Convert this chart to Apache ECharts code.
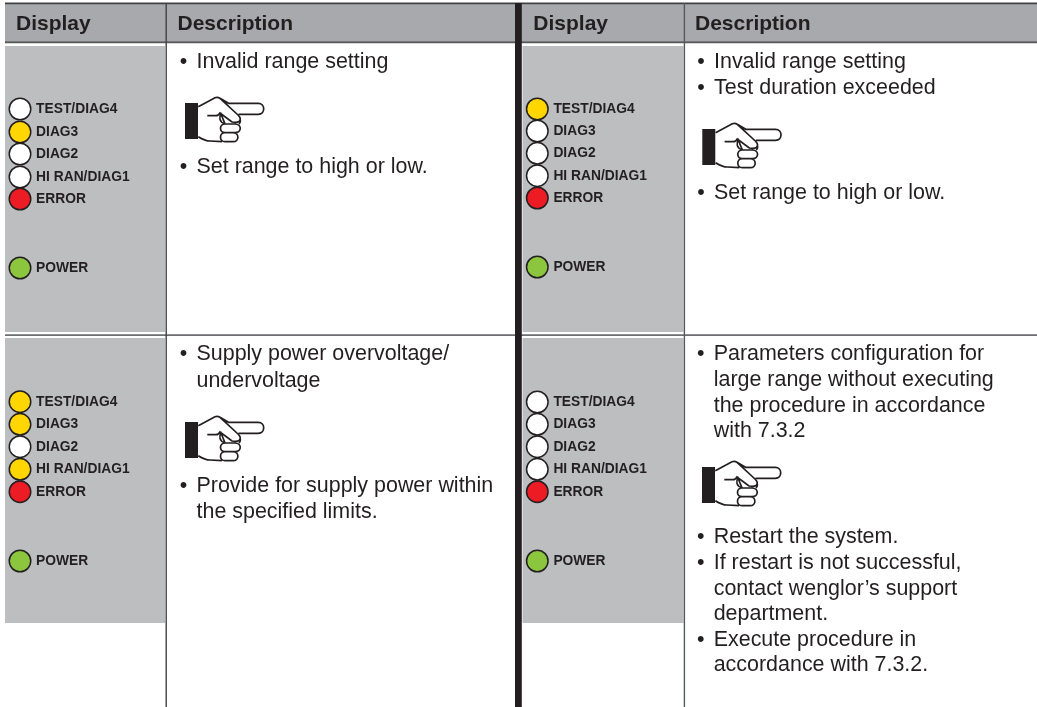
<!DOCTYPE html>
<html><head><meta charset="utf-8">
<style>html,body{margin:0;padding:0;background:#fff}#c{width:1037px;height:707px}</style>
<script src="https://cdn.jsdelivr.net/npm/echarts@6/dist/echarts.min.js"></script>
</head><body><div id="c"></div>
<script>
const headers = ['Display', 'Description'];
const ledNames = ['TEST/DIAG4', 'DIAG3', 'DIAG2', 'HI RAN/DIAG1', 'ERROR', 'POWER'];
const states1 = ['off', 'yellow', 'off', 'off', 'red', 'green'];
const states2 = ['yellow', 'off', 'off', 'off', 'red', 'green'];
const states3 = ['yellow', 'yellow', 'off', 'yellow', 'red', 'green'];
const states4 = ['off', 'off', 'off', 'off', 'red', 'green'];
const text1 = [['Invalid range setting', 1], ['Set range to high or low.', 1]];
const text2 = [['Invalid range setting', 1], ['Test duration exceeded', 1], ['Set range to high or low.', 1]];
const text3 = [['Supply power overvoltage/', 1], ['undervoltage', 0], ['Provide for supply power within', 1], ['the specified limits.', 0]];
const text4 = [['Parameters configuration for', 1], ['large range without executing', 0], ['the procedure in accordance', 0], ['with 7.3.2', 0],
  ['Restart the system.', 1], ['If restart is not successful,', 1], ['contact wenglor’s support', 0], ['department.', 0], ['Execute procedure in', 1], ['accordance with 7.3.2.', 0]];

const cellLayouts = [
  {led: 20, ledY: [109, 132, 154, 177, 199, 268], textX: 196.5, textY: [61.7, 167], hand: [185, 97], states: states1, text: text1},
  {led: 537.3, ledY: [109, 131, 153.3, 175.7, 198, 267], textX: 714, textY: [62, 87.7, 192.7], hand: [702.3, 123], states: states2, text: text2},
  {led: 20, ledY: [401.7, 424.3, 446.7, 469.3, 491.7, 561], textX: 196.5, textY: [354.4, 380.7, 486, 512], hand: [185, 416], states: states3, text: text3},
  {led: 537.3, ledY: [402, 424.3, 446.7, 469.3, 491.7, 561], textX: 713.7, textY: [354.5, 380.5, 406, 431, 536.7, 563, 589, 613.7, 639.7, 665.2], hand: [702, 461], states: states4, text: text4}
];
const ledColors = {off: '#ffffff', yellow: '#ffd600', red: '#ed1c24', green: '#8cc63f'};
const INK = '#231f20';
const rects = [
  [5, 4, 1032, 37.5, '#a7a9ac'],
  [5, 46, 160, 286, '#bcbec0'], [522.5, 46, 161, 286, '#bcbec0'],
  [5, 338, 160, 285, '#bcbec0'], [522.5, 338, 161, 285, '#bcbec0'],
  [5, 2.5, 1032, 1.8, '#414042'], [5, 41.3, 1032, 2, '#58595b'],
  [5, 334.3, 1032, 1.8, '#6d6e71'],
  [165.5, 3, 1.4, 704, '#414042'], [683.7, 3, 1.4, 704, '#58595b'],
  [515, 3, 6.8, 704, INK]
];
const handPath = 'M0 -1L0 -1M81 46L81 46'
  + 'M13.3 9.7L30 0.8Q32.5 -0.3 35 1.3L43.5 6.3L73.3 6.3C80.5 6.3 80.5 17.3 73.3 17.3L53.5 17.3'
  + 'M35 1.3L53 18Q57 22 54 24.5Q52 26 47 25L35 16Q33.5 18.7 31 18.7L22.3 18.7'
  + 'M36 17C34 20 34 25 40 27L50 27C57 27 57 35.7 50 35.7L40 35.7C34 35.7 34 27 40 27Z'
  + 'M40 35.7L48 35.7C54.5 35.7 54.5 44.7 48 44.7L40 44.7C34 44.7 34 35.7 40 35.7Z'
  + 'M55 22Q56 25 54 27'
  + 'M13.3 39.7Q20 44 25 44L37 44.7';

const ledData = [];
const textData = [];
const bulletData = [];
cellLayouts.forEach(c => {
  c.states.forEach((s, i) => ledData.push({name: ledNames[i], value: [c.led, c.ledY[i]], itemStyle: {color: ledColors[s]}}));
  c.text.forEach((t, i) => {
    textData.push([c.textX, c.textY[i], t[0]]);
    if (t[1]) bulletData.push([c.textX - 16.8, c.textY[i], '•']);
  });
});
const headerData = [];
[[16, 177.5], [533.3, 695]].forEach(xs => xs.forEach((x, i) => headerData.push([x, 24.4, headers[i]])));

function textSeries(rows, font) {
  return {type: 'custom', silent: true, clip: false, z: 3, data: rows, encode: {x: 0, y: 1},
    renderItem: (p, api) => {
      const a = api.coord([api.value(0), api.value(1)]);
      return {type: 'text', x: a[0], y: a[1], style: {text: rows[p.dataIndex][2], fill: INK, font: font, verticalAlign: 'middle'}};
    }};
}

const chart = echarts.init(document.getElementById('c'), null, {renderer: 'canvas'});
chart.setOption({
  animation: false,
  backgroundColor: '#ffffff',
  grid: {left: 0, right: 0, top: 0, bottom: 0},
  xAxis: {type: 'value', min: 0, max: 1037, show: false},
  yAxis: {type: 'value', min: 0, max: 707, inverse: true, show: false},
  series: [
    {type: 'custom', silent: true, clip: false, z: 1, data: rects,
      encode: {x: 0, y: 1},
      renderItem: (p, api) => {
        const a = api.coord([api.value(0), api.value(1)]);
        const r = rects[p.dataIndex];
        return {type: 'rect', shape: {x: a[0], y: a[1], width: r[2], height: r[3]}, style: {fill: r[4]}};
      }},
    textSeries(headerData, 'bold 21px "Liberation Sans"'),
    textSeries(textData, '21.45px "Liberation Sans"'),
    textSeries(bulletData, '21.45px "Liberation Sans"'),
    {type: 'custom', silent: true, clip: false, z: 3, data: cellLayouts.map(c => c.hand), encode: {x: 0, y: 1},
      renderItem: (p, api) => {
        const a = api.coord([api.value(0), api.value(1)]);
        return {type: 'group', children: [
          {type: 'rect', shape: {x: a[0], y: a[1] + 6, width: 13, height: 36}, style: {fill: INK}},
          {type: 'path', shape: {pathData: handPath, x: a[0], y: a[1] - 1, width: 81, height: 47, layout: 'cover'},
            style: {fill: 'none', stroke: INK, lineWidth: 1.7}}
        ]};
      }},
    {type: 'scatter', silent: true, clip: false, z: 4, symbol: 'circle', symbolSize: 21.5, data: ledData,
      itemStyle: {borderColor: INK, borderWidth: 1.5, opacity: 1},
      label: {show: true, position: 'right', distance: 4.6, formatter: '{b}', color: INK,
        fontFamily: 'Liberation Sans', fontWeight: 'bold', fontSize: 13.8}}
  ]
});
</script></body></html>
